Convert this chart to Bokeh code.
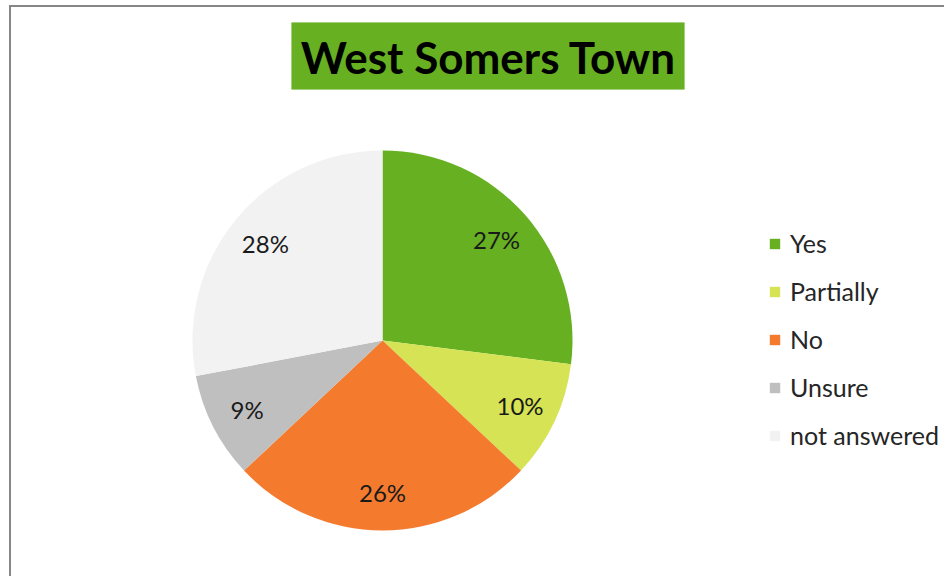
import numpy as np
from bokeh.plotting import figure
from bokeh.models import (Range1d, ColumnDataSource, Legend, LegendItem, BoxAnnotation,
                          Label)
from bokeh.core.properties import value
from bokeh.embed import file_html
from bokeh.resources import INLINE

# ---- data ----
categories = ["Yes", "Partially", "No", "Unsure", "not answered"]
percent = [27, 10, 26, 9, 28]
colors = ["#66b021", "#d5e354", "#f47a2e", "#bfbfbf", "#f2f2f2"]
title_text = "West Somers Town"

W, H = 944, 576
p = figure(width=W, height=H, output_backend="svg", toolbar_location=None,
           x_range=Range1d(0, W), y_range=Range1d(0, H),
           x_axis_location=None, y_axis_location=None, min_border=0,
           outline_line_color=None, background_fill_color="white",
           border_fill_color="white")
p.grid.visible = False

# chart frame (left and top edges only visible)
p.line(x=[9.5, 9.5, W + 10], y=[-10, H - 5.5, H - 5.5], line_color="#878787",
       line_width=2, line_join="miter")

# pie geometry
cx, cy, R = 382, 236, 190
vals = np.array(percent, dtype=float)
frac = vals / vals.sum()
cum = np.concatenate([[0], np.cumsum(frac)])
start = np.pi / 2 - cum[:-1] * 2 * np.pi
end = np.pi / 2 - cum[1:] * 2 * np.pi
mid = (start + end) / 2
src = ColumnDataSource(dict(cat=categories, start=start, end=end, color=colors,
                            lx=cx + 0.8 * R * np.cos(mid), ly=cy + 0.8 * R * np.sin(mid),
                            lab=[f"{v}%" for v in percent]))
r = p.wedge(x=cx, y=cy, radius=R, start_angle="start", end_angle="end",
            direction="clock", fill_color="color", line_color=None, source=src)
p.text(x="lx", y="ly", text="lab", source=src, text_align="center",
       text_baseline="middle", text_font=value("Lato"), text_font_size="24px",
       text_color="#1a1a1a")

# title box
p.add_layout(BoxAnnotation(left=291, right=684, bottom=487, top=554,
                           fill_color="#66b021", fill_alpha=1.0,
                           line_color="#8cc65a", line_width=1))
p.add_layout(Label(x=488, y=519.5, text=title_text, text_align="center",
                   text_baseline="middle", text_font="Lato",
                   text_font_style="bold", text_font_size="44px", text_color="#000000"))

# legend
items = [LegendItem(label=c, renderers=[r], index=i) for i, c in enumerate(categories)]
leg = Legend(items=items, location=(768, 126), orientation="vertical",
             glyph_width=13, glyph_height=13, label_standoff=9,
             label_height=30, spacing=18, padding=0, margin=0,
             label_text_font="Lato", label_text_font_size="25px",
             label_text_color="#262626", border_line_color=None,
             background_fill_alpha=0)
p.add_layout(leg)

open("out.html", "w").write(file_html(p, INLINE))
